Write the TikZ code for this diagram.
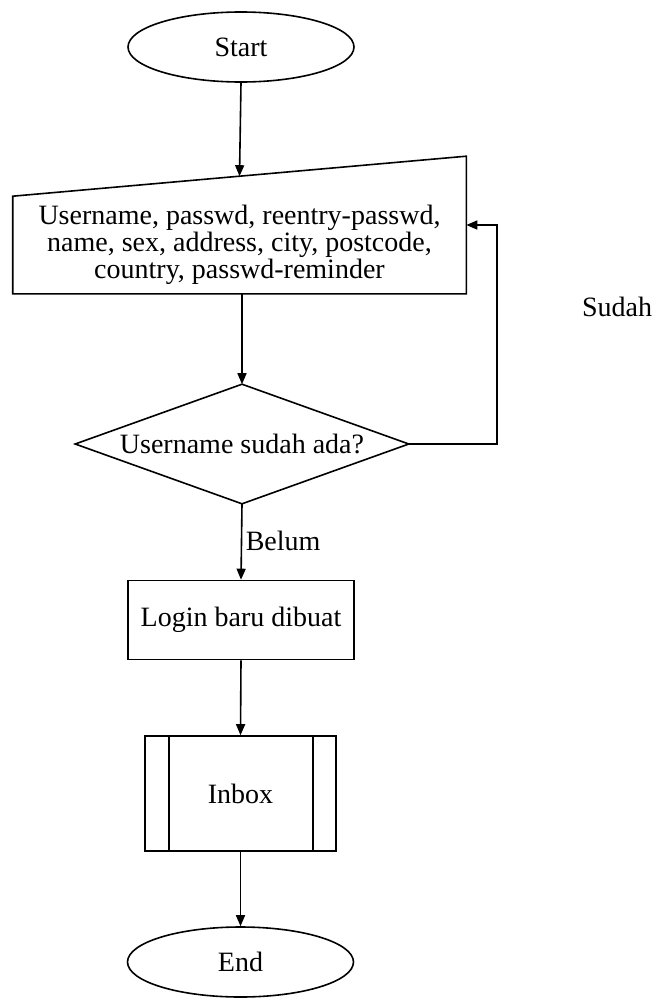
\documentclass[tikz,border=0pt]{standalone}
\usepackage{fontspec}
\setmainfont{Liberation Serif}
\usetikzlibrary{arrows.meta,calc,shapes.geometric}
\begin{document}
\begin{tikzpicture}[x=1pt,y=-1pt,
  line width=1.6pt,
  every node/.style={font=\fontsize{28}{27}\selectfont, inner sep=0pt},
  terminal/.style={draw, ellipse, minimum width=226pt, minimum height=70pt},
  procbox/.style={draw, rectangle},
  frame/.style={rectangle, inner sep=0pt},
  flow/.style={-{Triangle[length=11pt,width=9pt]}}
]
\useasboundingbox (0,0) rectangle (657,1001);

% start terminal
\node[terminal] (start) at (241,47) {Start};

% manual input: sloped top edge
\node[frame, minimum width=452pt, minimum height=136pt] (inp) at (239.5,225) {};
\draw (inp.south west) -- (inp.south east) -- (inp.north east)
      -- ($(inp.north west)+(0,40)$) -- cycle;
\coordinate (inptop) at ($($(inp.north west)+(0,40)$)!0.5!(inp.north east)$);
\node[align=center] (inptext) at (239.5,245)
  {Username, passwd, reentry-passwd,\\name, sex, address, city, postcode,\\country, passwd-reminder};

% decision
\node[frame, minimum width=332pt, minimum height=118pt] (dec) at (242,444) {Username sudah ada?};
\draw (dec.north) -- (dec.east) -- (dec.south) -- (dec.west) -- cycle;

% process
\node[procbox, minimum width=226pt, minimum height=79pt] (login) at (241,620) {Login baru dibuat};

% predefined process
\node[procbox, minimum width=191pt, minimum height=115pt] (inbox) at (240.5,793.5) {Inbox};
\draw ($(inbox.north west)+(25,0)$) -- ($(inbox.south west)+(25,0)$);
\draw ($(inbox.north east)+(-24,0)$) -- ($(inbox.south east)+(-24,0)$);

% end terminal
\node[terminal] (end) at (240.5,962) {End};

% labels
\node (sudah) at (617,307) {Sudah};
\node[anchor=west] (belum) at (245,541) {Belum};

% connectors
\coordinate (loop) at (497,225);
\draw[flow] (start.south) -- (inptop);
\draw[flow] (inp.south -| dec.north) -- (dec.north);
\draw[flow] (dec.east) -| (loop) -- (inp.east);
\draw[flow] (dec.south) -- (login.north);
\draw[flow] (login.south) -- (inbox.north);
\draw[flow] (inbox.south) -- (end.north);
\end{tikzpicture}
\end{document}
